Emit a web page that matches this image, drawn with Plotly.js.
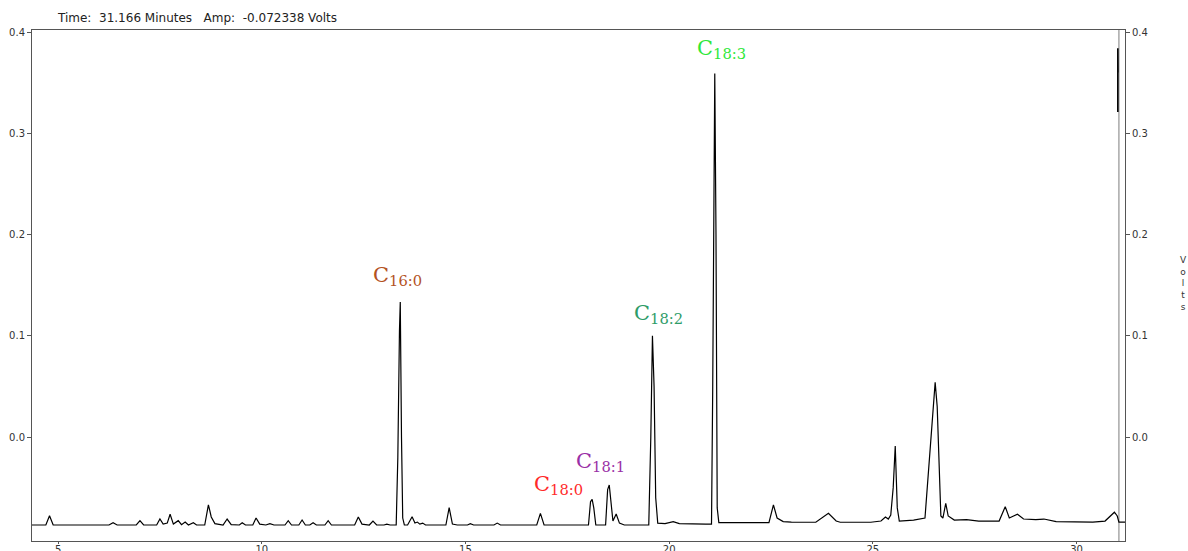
<!DOCTYPE html>
<html>
<head>
<meta charset="utf-8">
<script src="https://cdn.plot.ly/plotly-3.0.1.min.js"></script>
<style>html,body{margin:0;padding:0;background:#fff;}#chart{width:1188px;height:551px;}</style>
</head>
<body>
<div id="chart"></div>
<script>
// Chromatogram trace: retention time (minutes) and detector signal (Volts)
const timeMin = [
  4.36, 4.70, 4.79, 4.88, 6.25, 6.35, 6.45, 6.92, 7.01, 7.10,
  7.42, 7.50, 7.58, 7.68, 7.75, 7.83, 7.95, 8.03, 8.12, 8.20,
  8.32, 8.40, 8.60, 8.66, 8.69, 8.72, 8.76, 8.85, 9.05, 9.15,
  9.25, 9.45, 9.52, 9.60, 9.78, 9.86, 9.95, 10.10, 10.20, 10.30,
  10.57, 10.65, 10.73, 10.91, 10.99, 11.07, 11.18, 11.26, 11.34, 11.55,
  11.63, 11.71, 12.28, 12.37, 12.46, 12.64, 12.73, 12.82, 13.00, 13.07,
  13.15, 13.30, 13.34, 13.38, 13.40, 13.43, 13.46, 13.50, 13.58, 13.69,
  13.76, 13.82, 13.88, 13.95, 14.02, 14.52, 14.60, 14.68, 14.80, 15.05,
  15.12, 15.20, 15.70, 15.78, 15.86, 16.75, 16.84, 16.93, 18.02, 18.07,
  18.11, 18.15, 18.20, 18.44, 18.49, 18.53, 18.57, 18.62, 18.70, 18.78,
  18.90, 19.50, 19.55, 19.59, 19.63, 19.67, 19.72, 19.90, 20.10, 20.25,
  20.90, 21.04, 21.07, 21.10, 21.12, 21.15, 21.18, 21.22, 21.50, 22.45,
  22.56, 22.65, 22.80, 23.00, 23.60, 23.91, 24.10, 24.20, 24.95, 25.20,
  25.31, 25.38, 25.44, 25.50, 25.55, 25.60, 25.65, 26.00, 26.28, 26.36,
  26.45, 26.53, 26.58, 26.63, 26.67, 26.72, 26.79, 26.85, 27.00, 27.30,
  27.60, 28.10, 28.25, 28.35, 28.55, 28.70, 29.00, 29.20, 29.50, 30.40,
  30.70, 30.93, 31.00, 31.04, 31.19
];
const volts = [
  -0.0869, -0.0869, -0.0777, -0.0869, -0.0869, -0.0846, -0.0869, -0.0869, -0.0826, -0.0869,
  -0.0869, -0.0810, -0.0860, -0.0850, -0.0763, -0.0860, -0.0826, -0.0866, -0.0840, -0.0869,
  -0.0846, -0.0869, -0.0869, -0.0740, -0.0670, -0.0720, -0.0790, -0.0855, -0.0869, -0.0810,
  -0.0866, -0.0869, -0.0846, -0.0869, -0.0869, -0.0800, -0.0860, -0.0869, -0.0855, -0.0869,
  -0.0869, -0.0826, -0.0869, -0.0869, -0.0820, -0.0869, -0.0869, -0.0846, -0.0869, -0.0869,
  -0.0826, -0.0869, -0.0869, -0.0790, -0.0860, -0.0869, -0.0830, -0.0869, -0.0869, -0.0860,
  -0.0869, -0.0869, -0.0200, 0.1050, 0.1333, 0.0000, -0.0800, -0.0869, -0.0869, -0.0787,
  -0.0850, -0.0840, -0.0860, -0.0850, -0.0869, -0.0869, -0.0698, -0.0860, -0.0869, -0.0869,
  -0.0855, -0.0869, -0.0869, -0.0850, -0.0869, -0.0869, -0.0754, -0.0869, -0.0869, -0.0640,
  -0.0615, -0.0700, -0.0869, -0.0869, -0.0520, -0.0474, -0.0640, -0.0830, -0.0760, -0.0850,
  -0.0869, -0.0869, 0.0000, 0.1000, 0.0500, -0.0600, -0.0850, -0.0855, -0.0835, -0.0855,
  -0.0860, -0.0860, 0.0500, 0.3000, 0.3590, 0.2000, -0.0700, -0.0845, -0.0845, -0.0845,
  -0.0670, -0.0800, -0.0835, -0.0840, -0.0842, -0.0754, -0.0830, -0.0842, -0.0842, -0.0830,
  -0.0790, -0.0810, -0.0770, -0.0500, -0.0090, -0.0700, -0.0830, -0.0820, -0.0800, -0.0400,
  0.0100, 0.0540, 0.0300, -0.0400, -0.0780, -0.0800, -0.0655, -0.0780, -0.0820, -0.0815,
  -0.0830, -0.0830, -0.0688, -0.0800, -0.0763, -0.0810, -0.0815, -0.0810, -0.0835, -0.0840,
  -0.0830, -0.0743, -0.0780, -0.0840, -0.0840
];
// Short off-scale segment drawn at the cursor position
const spikeTime = [31.014, 31.014, 31.018];
const spikeVolts = [0.321, 0.384, 0.360];

// Cursor readout
const cursorTime = 31.04;
const headerText = 'Time:  31.166 Minutes   Amp:  -0.072338 Volts';

// Peak labels
const peakNames = ['16:0', '18:0', '18:1', '18:2', '18:3'];
const peakColors = ['#B4531F', '#FF2A2A', '#9A2FA6', '#2E9C68', '#2EE83A'];
const labelTime = [13.32, 17.28, 18.31, 19.74, 21.28];
const labelVolts = [0.159, -0.047, -0.025, 0.122, 0.383];

// Axis ticks
const xTicks = [5, 10, 15, 20, 25, 30];
const yTicks = [0.0, 0.1, 0.2, 0.3, 0.4];

const xRange = [4.36, 31.19];
const yRange = [-0.1027, 0.402];
const axisColor = '#555555';
const tickFont = {family: 'DejaVu Sans, Verdana, sans-serif', size: 10, color: '#333333'};

const traces = [
  {x: timeMin, y: volts, type: 'scatter', mode: 'lines',
   line: {color: '#000000', width: 1.2}, hoverinfo: 'skip', showlegend: false},
  {x: spikeTime, y: spikeVolts, type: 'scatter', mode: 'lines', yaxis: 'y2',
   line: {color: '#000000', width: 1.6}, hoverinfo: 'skip', showlegend: false}
];

const annotations = peakNames.map((n, i) => ({
  x: labelTime[i], y: labelVolts[i], xref: 'x', yref: 'y',
  text: 'C<sub>' + n + '</sub>', showarrow: false,
  xanchor: 'center', yanchor: 'middle',
  font: {family: 'DejaVu Serif, Liberation Serif, serif', size: 21, color: peakColors[i]}
}));
annotations.push({
  x: (55 - 32) / 1093, y: 1 + 12 / 511, xref: 'paper', yref: 'paper',
  xanchor: 'left', yanchor: 'middle', showarrow: false, text: headerText,
  font: {family: 'DejaVu Sans, Verdana, sans-serif', size: 12, color: '#222222'}
});
annotations.push({
  x: (1183 - 32) / 1093, y: (541 - 283) / 511, xref: 'paper', yref: 'paper',
  xanchor: 'center', yanchor: 'middle', showarrow: false,
  text: 'V<br>o<br>l<br>t<br>s',
  font: {family: 'DejaVu Sans, Verdana, sans-serif', size: 9, color: '#333333'}
});

const layout = {
  width: 1188, height: 551,
  margin: {l: 32, r: 63, t: 30, b: 10, pad: 0},
  paper_bgcolor: '#ffffff', plot_bgcolor: '#ffffff',
  showlegend: false,
  xaxis: {
    range: xRange, tickvals: xTicks, ticks: 'outside', ticklen: 2, tickcolor: axisColor,
    ticklabelstandoff: -3,
    showline: true, linecolor: axisColor, linewidth: 1, mirror: true,
    showgrid: false, zeroline: false, tickfont: tickFont
  },
  yaxis: {
    range: yRange, tickvals: yTicks, tickformat: '.1f', ticks: 'outside', ticklen: 4,
    tickcolor: axisColor, showline: true, linecolor: axisColor, linewidth: 1,
    showgrid: false, zeroline: false, tickfont: tickFont
  },
  yaxis2: {
    range: yRange, tickvals: yTicks, tickformat: '.1f', ticks: 'outside', ticklen: 4,
    tickcolor: axisColor, showline: true, linecolor: axisColor, linewidth: 1,
    overlaying: 'y', side: 'right', showgrid: false, zeroline: false, tickfont: tickFont
  },
  shapes: [{
    type: 'line', xref: 'x', yref: 'paper', x0: cursorTime, x1: cursorTime, y0: 0, y1: 1,
    line: {color: '#A8A8A8', width: 1.5}, layer: 'below'
  }],
  annotations: annotations
};

Plotly.newPlot('chart', traces, layout, {displayModeBar: false, staticPlot: true});
</script>
</body>
</html>
